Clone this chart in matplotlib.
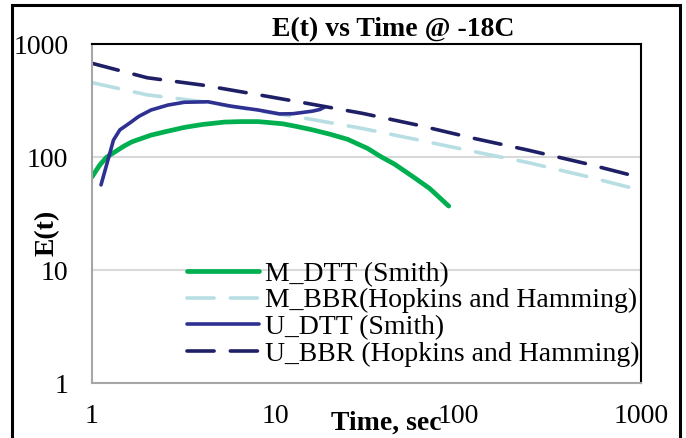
import numpy as np
import matplotlib
matplotlib.use("Agg")
import matplotlib.pyplot as plt
from matplotlib.patches import Rectangle

plt.rcParams['font.family'] = ['Liberation Serif', 'DejaVu Serif']

# M_DTT (Smith)
m_dtt_t = [1.0, 1.1, 1.2, 1.35, 1.5, 1.65, 2.1, 2.5, 3.2, 4.0, 5.3, 6.5, 8.1, 11, 13,
           16, 20, 25, 32, 38, 45, 57, 70, 89]
m_dtt_e = [67, 85, 100, 113, 126, 137, 157, 168, 184, 195, 205, 207, 207, 198, 188,
           175, 160, 144, 120, 101, 87, 67, 53, 37]

# M_BBR (Hopkins and Hamming)
m_bbr_t = [1, 2, 4, 8, 15, 30, 60, 120, 240, 500, 1000]
m_bbr_e = [458, 357, 311, 259, 220, 180, 143, 113, 90, 68, 51]

# U_DTT (Smith)
u_dtt_t = [1.12, 1.2, 1.31, 1.42, 1.6, 1.8, 2.1, 2.6, 3.2, 4.3, 5.7, 8.1, 10.6, 12.5,
           14.3, 16, 17.6, 18.8]
u_dtt_e = [57, 85, 142, 175, 200, 230, 262, 290, 307, 310, 284, 262, 242, 243,
           250, 256, 265, 280]

# U_BBR (Hopkins and Hamming)
u_bbr_t = [1, 2, 4, 8, 15, 30, 60, 120, 240, 500, 1000]
u_bbr_e = [679, 506, 436, 359, 300, 245, 193, 148, 116, 88, 66]

labels = ['M_DTT (Smith)', 'M_BBR(Hopkins and Hamming)',
          'U_DTT (Smith)', 'U_BBR (Hopkins and Hamming)']

fs = 20

fig = plt.figure(figsize=(6.86, 4.38), dpi=100)
ax = fig.add_axes([92/686, 1-383.3/438, 549/686, 339/438])

dash = (0, (7.5, 4.5))
ax.plot(m_dtt_t, m_dtt_e, color='#00b050', lw=3.4, label=labels[0],
        solid_capstyle='round', solid_joinstyle='round')
ax.plot(m_bbr_t, m_bbr_e, color='#b7dfe3', lw=2.6, label=labels[1],
        linestyle=dash, dash_capstyle='round')
ax.plot(u_dtt_t, u_dtt_e, color='#2e3192', lw=2.6, label=labels[2],
        solid_capstyle='round', solid_joinstyle='round')
ax.plot(u_bbr_t, u_bbr_e, color='#1f1f66', lw=2.6, label=labels[3],
        linestyle=dash, dash_capstyle='round')

ax.set_xscale('log')
ax.set_yscale('log')
ax.set_xlim(1, 1000)
ax.set_ylim(1, 1000)
ax.set_xticks([1, 10, 100, 1000])
ax.set_xticklabels(['1', '10', '100', '1000'])
ax.set_yticks([1, 10, 100, 1000])
ax.set_yticklabels(['1', '10', '100', '1000'])
ax.minorticks_off()
ax.tick_params(axis='both', length=0, labelsize=fs)
ax.tick_params(axis='x', pad=15)
ax.tick_params(axis='y', pad=17)
ax.yaxis.grid(True, color='#d9d9d9', lw=1.5)
ax.set_axisbelow(True)

for s in ['left', 'bottom']:
    ax.spines[s].set_color('#a6a6a6')
    ax.spines[s].set_linewidth(1.5)
for s in ['top', 'right']:
    ax.spines[s].set_color('black')
    ax.spines[s].set_linewidth(1.5)

fig.text(393/686, 1-30/438, 'E(t) vs Time @ -18C', fontsize=fs,
         fontweight='bold', ha='center', va='center')
fig.text(386/686, 1-423/438, 'Time, sec', fontsize=fs,
         fontweight='bold', ha='center', va='center')
fig.text(47/686, 1-233/438, 'E(t)', fontsize=fs, fontweight='bold',
         ha='center', va='center', rotation=90)

ax.legend(loc='center left', bbox_to_anchor=(187/686, 1-314/438),
          bbox_transform=fig.transFigure, frameon=False, fontsize=fs,
          borderpad=0, borderaxespad=0, handlelength=2.6,
          handletextpad=0.2, labelspacing=0.04)

fig.patches.append(Rectangle((12/686, -0.05), 668/686, 1.05-5/438,
                             transform=fig.transFigure, fill=False,
                             edgecolor='black', lw=2.2))

fig.savefig('out.png', dpi=100)
